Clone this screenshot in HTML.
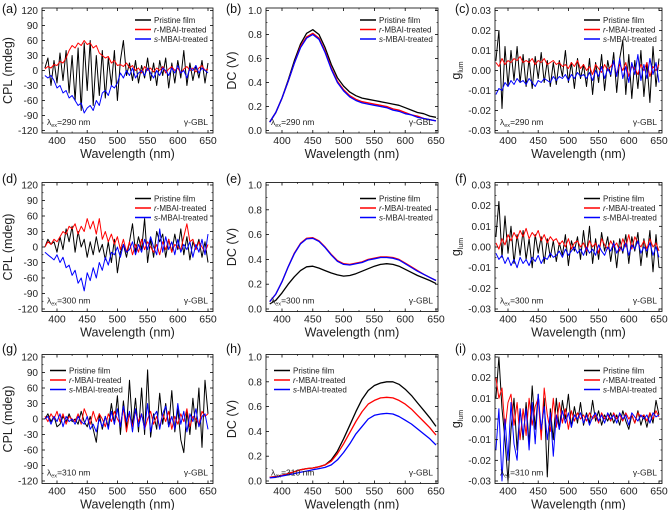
<!DOCTYPE html>
<html><head><meta charset="utf-8">
<style>
html,body{margin:0;padding:0;background:#fff;}
svg{display:block;font-family:"Liberation Sans",Arial,sans-serif;}
</style></head>
<body>
<svg id="fig" width="672" height="510" viewBox="0 0 672 510"></svg>
<script>
// ---- data ----
const wlNoisy = []; for (let w = 380; w <= 650; w += 5) wlNoisy.push(w);
const wlSmooth = []; for (let w = 380; w <= 650; w += 10) wlSmooth.push(w);
const seriesNames = ["Pristine film", "r-MBAI-treated", "s-MBAI-treated"];
const cplTicks = [-120, -90, -60, -30, 0, 30, 60, 90, 120];
const dcTicks = [0.0, 0.2, 0.4, 0.6, 0.8, 1.0];
const gTicks = [-0.03, -0.02, -0.01, 0.00, 0.01, 0.02, 0.03];
const xTicks = [400, 450, 500, 550, 600, 650];

const aBlack = [5,25,-30,20,-25,35,-20,40,-45,30, -60,45,-80,55,-40,60,-70,30,-50,40, -55,25,-30,40,-60,20,60,-10,15,-20, 20,-25,10,-15,25,-20,15,-30,20,-10, 25,-35,15,-25,20,-15,40,-30,15,-20, 10,-15,20,-25,15];
const aRed = [3,8,5,12,10,18,15,25,40,50, 45,55,50,60,52,55,45,50,35,30, 25,28,15,20,10,12,8,15,5,10, 0,5,-5,8,0,5,-3,5,0,8, -5,3,8,0,5,-5,3,8,0,5, -3,5,10,0,3];
const aBlue = [-10,-15,-10,-20,-35,-30,-45,-40,-55,-50, -60,-70,-65,-85,-75,-70,-80,-60,-70,-45, -40,-50,-30,-35,-25,-5,-15,0,-10,5, -15,-5,0,-10,5,-5,-15,0,-10,5, 0,-10,5,-5,10,-5,0,-15,5,0, 10,-5,5,0,-5];

const bBlack = [0.07,0.15,0.27,0.42,0.58,0.72,0.81,0.84,0.80,0.69,0.55,0.44,0.37,0.32,0.29,0.27,0.26,0.25,0.24,0.23,0.22,0.21,0.19,0.17,0.15,0.14,0.12,0.11];
const bRed = [0.07,0.15,0.27,0.41,0.56,0.70,0.78,0.81,0.77,0.66,0.52,0.41,0.34,0.29,0.26,0.24,0.23,0.22,0.21,0.20,0.18,0.17,0.15,0.13,0.12,0.10,0.09,0.08];
const bBlue = [0.07,0.15,0.27,0.41,0.56,0.69,0.77,0.80,0.76,0.65,0.51,0.40,0.33,0.28,0.25,0.23,0.22,0.21,0.20,0.19,0.17,0.16,0.14,0.13,0.11,0.10,0.09,0.08];

const cBlack = [0.005,0.02,-0.019,0.012,-0.008,0.01,-0.005,0.012,-0.006,0.008, -0.008,0.006,-0.009,0.007,-0.004,0.009,-0.006,0.005,-0.008,0.004, -0.007,0.005,-0.003,0.01,-0.006,0.004,-0.009,0.006,-0.004,0.003, -0.008,0.006,-0.012,0.004,-0.006,0.008,-0.01,0.005,-0.003,0.009, -0.011,0.006,0.015,-0.012,0.008,-0.014,0.005,-0.009,0.01,-0.013, 0.004,-0.016,0.012,-0.008,0.006];
const cRed = [0.004,0.002,0.006,0.003,0.005,0.004,0.006,0.005,0.007,0.004, 0.005,0.004,0.006,0.003,0.005,0.004,0.006,0.003,0.004,0.005, 0.003,0.004,0.002,0.003,0.001,0.004,0.002,0.005,0.001,0.003, 0.0,0.002,-0.002,0.003,0.001,-0.001,0.003,0.0,0.002,0.004, -0.002,0.003,0.0,0.004,-0.003,0.002,0.001,-0.002,0.003,0.0, 0.004,-0.003,0.002,0.0,0.003];
const cBlue = [-0.012,-0.009,-0.01,-0.006,-0.008,-0.005,-0.007,-0.004,-0.006,-0.005, -0.007,-0.004,-0.006,-0.008,-0.005,-0.006,-0.004,-0.005,-0.006,-0.003, -0.005,-0.003,-0.004,-0.002,-0.005,-0.002,-0.004,-0.001,-0.003,-0.002, -0.004,-0.001,-0.005,0.0,-0.003,0.002,-0.004,0.001,-0.002,0.005, -0.003,0.006,-0.004,0.002,-0.006,0.004,-0.002,0.008,-0.005,0.003, -0.004,0.006,-0.002,0.004,-0.006];

const dBlack = [0,15,5,10,-10,20,-5,35,10,40, -10,30,0,15,-20,10,-15,20,-10,5, -25,10,-30,15,-50,-10,5,-20,10,45, -10,20,-5,55,-30,15,-20,30,10,25, -20,15,-10,25,-5,35,-15,20,-25,10, -5,15,-20,10,-30];
const dRed = [0,10,5,15,10,20,30,25,40,35, 45,25,40,30,55,35,50,25,55,15, 30,10,25,5,20,-5,15,-10,10,-15, 5,-10,15,-5,10,0,-10,5,-15,10, -5,15,-10,5,0,-5,20,45,10,15, -5,10,0,-10,5];
const dBlue = [-10,-15,-20,-25,-15,-30,-20,-40,-35,-55, -45,-70,-60,-85,-50,-65,-40,-60,-30,-45, -20,-35,-10,-15,0,-20,5,-10,-5,10, -15,5,-10,15,-5,20,0,-15,35,-10, 20,-5,10,-15,15,-10,5,-5,10,-20, 5,-10,15,-15,25];

const eBlack = [0.04,0.07,0.13,0.20,0.26,0.31,0.34,0.345,0.33,0.31,0.29,0.275,0.265,0.27,0.285,0.305,0.325,0.345,0.36,0.365,0.36,0.345,0.32,0.295,0.27,0.25,0.23,0.205];
const eRed = [0.06,0.12,0.22,0.34,0.45,0.53,0.57,0.575,0.55,0.50,0.44,0.39,0.365,0.36,0.37,0.38,0.40,0.41,0.42,0.42,0.415,0.40,0.37,0.34,0.31,0.28,0.255,0.23];
const eBlue = [0.06,0.12,0.22,0.34,0.445,0.525,0.565,0.57,0.545,0.495,0.435,0.385,0.36,0.355,0.365,0.375,0.395,0.405,0.415,0.415,0.41,0.395,0.365,0.335,0.305,0.28,0.255,0.23];

const fBlack = [0.005,0.022,-0.005,0.015,-0.003,0.01,-0.008,0.006,-0.004,0.008, -0.006,0.004,-0.01,0.006,-0.003,0.005,-0.008,0.004,-0.005,0.003, -0.007,0.002,-0.004,0.006,-0.009,0.003,-0.002,0.005,-0.006,0.008, -0.004,0.01,-0.008,0.004,-0.006,0.007,-0.002,0.005,-0.007,0.003, -0.01,0.004,-0.003,0.006,-0.008,0.005,-0.002,0.007,-0.009,0.004, -0.005,0.008,-0.012,0.006,-0.01];
const fRed = [0.002,-0.001,0.004,0.001,0.006,0.003,0.007,0.004,0.008,0.005, 0.009,0.004,0.007,0.005,0.008,0.003,0.006,0.002,0.005,0.003, 0.004,0.001,0.003,0.0,0.004,-0.001,0.002,0.003,0.0,0.002, -0.002,0.003,0.0,0.002,-0.003,0.004,0.001,-0.001,0.003,0.0, 0.002,-0.002,0.004,0.0,0.006,-0.001,0.005,0.002,0.0,0.003, -0.001,0.004,0.0,0.002,-0.002];
const fBlue = [-0.003,-0.006,-0.004,-0.008,-0.005,-0.009,-0.006,-0.01,-0.005,-0.008, -0.006,-0.009,-0.005,-0.007,-0.004,-0.008,-0.005,-0.006,-0.003,-0.005, -0.004,-0.002,-0.005,-0.001,-0.004,-0.002,0.0,-0.003,-0.001,-0.004, 0.0,-0.003,-0.001,-0.004,0.001,-0.002,-0.004,0.0,-0.002,0.002, -0.003,0.0,-0.002,0.002,-0.004,0.001,-0.001,0.003,-0.003,0.0, -0.002,0.002,-0.004,0.0,-0.005];

const gBlack = [0,10,-5,5,-15,-10,5,-5,10,-5, 0,-10,15,-5,-15,5,-20,-45,10,-20, 5,-15,30,-10,45,-30,35,-20,75,-15, 40,-25,60,-30,95,-35,10,-20,50,-10, 30,-15,55,-25,20,-40,-65,15,-30,40, -20,60,-55,75,10];
const gRed = [5,-5,10,0,15,-5,10,-10,5,0, -5,10,-10,20,5,-10,15,-5,10,0, -15,10,-5,15,0,-10,20,-25,10,-15, 15,-5,10,-20,0,15,-10,5,-15,10, -5,15,-20,5,-10,10,-5,20,-15,5, 0,-10,15,5,10];
const gBlue = [0,5,-10,5,-5,10,-15,5,-5,0, -10,5,-5,-10,5,-20,-10,-25,0,-15, 5,-20,15,-10,20,-15,25,-5,15,-25, 20,-15,10,-20,30,-25,5,15,-20,10, 25,-15,5,-20,30,-10,15,-25,10,-5, 20,-15,5,10,-20];

const hBlack = [0.03,0.035,0.045,0.06,0.075,0.09,0.10,0.105,0.115,0.13,0.17,0.24,0.34,0.45,0.56,0.66,0.73,0.77,0.79,0.80,0.80,0.78,0.74,0.69,0.63,0.57,0.51,0.44];
const hRed = [0.03,0.035,0.045,0.06,0.075,0.09,0.10,0.105,0.115,0.13,0.16,0.22,0.30,0.39,0.48,0.56,0.62,0.65,0.67,0.675,0.67,0.65,0.62,0.58,0.53,0.48,0.43,0.37];
const hBlue = [0.025,0.03,0.04,0.05,0.06,0.07,0.08,0.09,0.10,0.11,0.13,0.17,0.23,0.30,0.38,0.44,0.50,0.53,0.54,0.545,0.54,0.52,0.49,0.46,0.42,0.38,0.34,0.29];

const iBlack = [0.01,0.03,0.005,-0.01,-0.03,-0.005,0.01,-0.015,0.005,-0.01, 0.008,-0.012,0.016,-0.005,0.012,-0.008,0.01,-0.028,0.005,-0.01, 0.01,-0.005,0.009,0.0,0.012,-0.004,0.006,-0.002,0.008,-0.003, 0.003,-0.002,0.009,-0.001,0.004,-0.003,0.002,-0.001,0.003,-0.002, 0.002,-0.003,0.004,-0.001,-0.005,0.002,-0.002,0.004,-0.003,0.002, -0.004,0.003,-0.002,0.009,0.002];
const iRed = [0.02,0.01,0.015,-0.005,0.008,0.012,-0.003,0.008,-0.01,0.005, -0.008,0.01,-0.003,0.006,0.01,-0.01,0.015,0.002,-0.006,0.01, -0.004,0.008,-0.002,0.005,-0.005,0.004,-0.001,0.003,0.0,0.002, -0.001,0.003,0.0,0.002,-0.002,0.003,0.0,0.002,-0.001,0.003, 0.0,0.002,-0.001,0.003,0.0,0.002,-0.002,0.003,0.001,0.002, -0.001,0.003,0.0,0.004,0.001];
const iBlue = [-0.015,0.005,-0.03,0.0,-0.02,0.008,-0.012,-0.02,0.005,-0.008, 0.005,-0.015,0.008,-0.012,0.012,-0.005,0.006,-0.01,0.003,-0.018, 0.002,-0.005,0.004,-0.002,0.003,-0.004,0.002,0.0,0.003,-0.002, 0.002,-0.003,0.001,0.003,-0.001,0.002,-0.002,0.003,0.0,0.002, -0.002,0.003,0.0,0.002,-0.003,0.003,0.001,-0.001,0.002,0.0, 0.002,-0.002,0.003,0.001,0.002];

// ---- layout ----
const NS = "http://www.w3.org/2000/svg";
const svg = document.getElementById('fig');
const colors = ["#000000", "#ff0000", "#0000ff"];
const cols = [
  {L:42, R:213, x400:57, x650:208},
  {L:266, R:438, x400:282, x650:436},
  {L:495, R:662, x400:508, x650:659}
];
const rows = [
  {tTop:10.5, tBot:130.5, off:0},
  {tTop:185, tBot:309, off:170},
  {tTop:357, tBot:481, off:340}
];
function mk(tag, attrs, parent){ const e=document.createElementNS(NS,tag); for(const k in attrs) e.setAttribute(k,attrs[k]); (parent||svg).appendChild(e); return e; }

const panels = [
  {id:'a', r:0, c:0, kind:'cpl', wl:wlNoisy, data:[aBlack,aRed,aBlue], ex:'290', leg:'right'},
  {id:'b', r:0, c:1, kind:'dc', wl:wlSmooth, data:[bBlack,bRed,bBlue], ex:'290', leg:'right'},
  {id:'c', r:0, c:2, kind:'g', wl:wlNoisy, data:[cBlack,cRed,cBlue], ex:'290', leg:'right'},
  {id:'d', r:1, c:0, kind:'cpl', wl:wlNoisy, data:[dBlack,dRed,dBlue], ex:'300', leg:'right'},
  {id:'e', r:1, c:1, kind:'dc', wl:wlSmooth, data:[eBlack,eRed,eBlue], ex:'300', leg:'right'},
  {id:'f', r:1, c:2, kind:'g', wl:wlNoisy, data:[fBlack,fRed,fBlue], ex:'300', leg:'right'},
  {id:'g', r:2, c:0, kind:'cpl', wl:wlNoisy, data:[gBlack,gRed,gBlue], ex:'310', leg:'left'},
  {id:'h', r:2, c:1, kind:'dc', wl:wlSmooth, data:[hBlack,hRed,hBlue], ex:'310', leg:'left'},
  {id:'i', r:2, c:2, kind:'g', wl:wlNoisy, data:[iBlack,iRed,iBlue], ex:'310', leg:'right'}
];

panels.forEach(p => {
  const C = cols[p.c], Rw = rows[p.r];
  const g = mk('g', {});
  
  
  const top = Rw.tTop - 2.5, bot = Rw.tBot + 2.5;
  let ticks, vTop, vBot, fmt, ylab;
  if (p.kind==='cpl'){ ticks=cplTicks; vTop=120; vBot=-120; fmt=v=>String(v); ylab='CPL (mdeg)'; }
  else if (p.kind==='dc'){ ticks=dcTicks; vTop=1.0; vBot=0; fmt=v=>v.toFixed(1); ylab='DC (V)'; }
  else { ticks=gTicks; vTop=0.03; vBot=-0.03; fmt=v=>v.toFixed(2); ylab='g'; }
  const xs = w => C.x400 + (w-400)*(C.x650-C.x400)/250;
  const ys = v => Rw.tBot - (v-vBot)*(Rw.tBot-Rw.tTop)/(vTop-vBot);

  const cp = mk('clipPath', {id:'clip-'+p.id}, g);
  mk('rect', {x:C.L, y:top, width:C.R-C.L, height:bot-top}, cp);

  p.data.forEach((arr, si) => {
    const d = arr.map((v,k)=>(k?'L':'M')+xs(p.wl[k]).toFixed(1)+','+ys(v).toFixed(1)).join('');
    const path = mk('path', {d:d, fill:'none', stroke:colors[si], 'stroke-width': p.kind==='dc'?1.3:1, 'stroke-linejoin':'round', 'clip-path':'url(#clip-'+p.id+')'}, g);
    
    
  });

  const fr = mk('rect', {x:C.L, y:top, width:C.R-C.L, height:bot-top, fill:'none', stroke:'#000', 'stroke-width':0.8}, g);
  
  

  ticks.forEach((t, k) => {
    const y = ys(t);
    mk('line', {x1:C.L, x2:C.L+3, y1:y, y2:y, stroke:'#000', 'stroke-width':0.8}, g);
    mk('line', {x1:C.R, x2:C.R-3, y1:y, y2:y, stroke:'#000', 'stroke-width':0.8}, g);
    if (k < ticks.length-1){ const ym = ys((t+ticks[k+1])/2);
      mk('line', {x1:C.L, x2:C.L+1.5, y1:ym, y2:ym, stroke:'#000', 'stroke-width':0.6}, g);
      mk('line', {x1:C.R, x2:C.R-1.5, y1:ym, y2:ym, stroke:'#000', 'stroke-width':0.6}, g); }
    const tx = mk('text', {x:C.L-4, y:y+3.5, 'font-size':10, 'text-anchor':'end', fill:'#222'}, g);
    tx.textContent = fmt(t);
    
    
  });
  xTicks.forEach(t => {
    const x = xs(t);
    mk('line', {x1:x, x2:x, y1:bot, y2:bot-3, stroke:'#000', 'stroke-width':0.8}, g);
    mk('line', {x1:x, x2:x, y1:top, y2:top+3, stroke:'#000', 'stroke-width':0.8}, g);
    [-25].forEach(o => { const xm = xs(t+o); if (xm>C.L+1 && xm<C.R-1) {
      mk('line', {x1:xm, x2:xm, y1:bot, y2:bot-1.5, stroke:'#000', 'stroke-width':0.6}, g);
      mk('line', {x1:xm, x2:xm, y1:top, y2:top+1.5, stroke:'#000', 'stroke-width':0.6}, g); }});
    const tx = mk('text', {x:x, y:bot+11, 'font-size':10.5, 'text-anchor':'middle', fill:'#222'}, g);
    tx.textContent = t;
    
    
  });
  const xt = mk('text', {x:(C.L+C.R)/2, y:bot+25, 'font-size':12.5, 'text-anchor':'middle', fill:'#222'}, g);
  xt.textContent = 'Wavelength (nm)';
  
  
  const yx = p.kind==='g' ? C.L-35 : C.L-30;
  const yt = mk('text', {x:yx, y:(top+bot)/2, 'font-size':12.5, 'text-anchor':'middle', fill:'#222', transform:'rotate(-90 '+yx+' '+((top+bot)/2)+')'}, g);
  if (p.kind==='g'){ yt.textContent='g'; const sub = mk('tspan', {'font-size':7, dy:3}, yt); sub.textContent='lum'; }
  else yt.textContent = ylab;
  
  
  const pl = mk('text', {x:(p.c===0?2:C.L-40), y:Rw.off+13, 'font-size':12.5, fill:'#111'}, g);
  pl.textContent = '(' + p.id + ')';
  
  
  const lx = p.leg==='right' ? C.R-78 : C.L+8;
  const ly0 = top + (p.r===0 ? 12 : 16);
  seriesNames.forEach((nm, si) => {
    const y = ly0 + si*9.5;
    const ln = mk('line', {x1:lx, x2:lx+16, y1:y, y2:y, stroke:colors[si], 'stroke-width':1.5}, g);
    
    
    const tx = mk('text', {x:lx+19, y:y+3, 'font-size':8, fill:'#222'}, g);
    if (si===0) tx.textContent = nm;
    else { const it = mk('tspan', {'font-style':'italic'}, tx); it.textContent = si===1?'r':'s'; const rest = mk('tspan', {}, tx); rest.textContent = '-MBAI-treated'; }
    
    
  });
  const ex = mk('text', {x:C.L+5, y:bot-8, 'font-size':8.5, fill:'#222'}, g);
  ex.textContent = 'λ';
  const s1 = mk('tspan', {'font-size':5.5, dy:2}, ex); s1.textContent = 'ex';
  const s2 = mk('tspan', {dy:-2}, ex); s2.textContent = '=' + p.ex + ' nm';
  
  
  const gb = mk('text', {x:C.R-5, y:bot-8, 'font-size':8.5, 'text-anchor':'end', fill:'#222'}, g);
  gb.textContent = 'γ-GBL';
  
  
});
</script>
</body></html>
